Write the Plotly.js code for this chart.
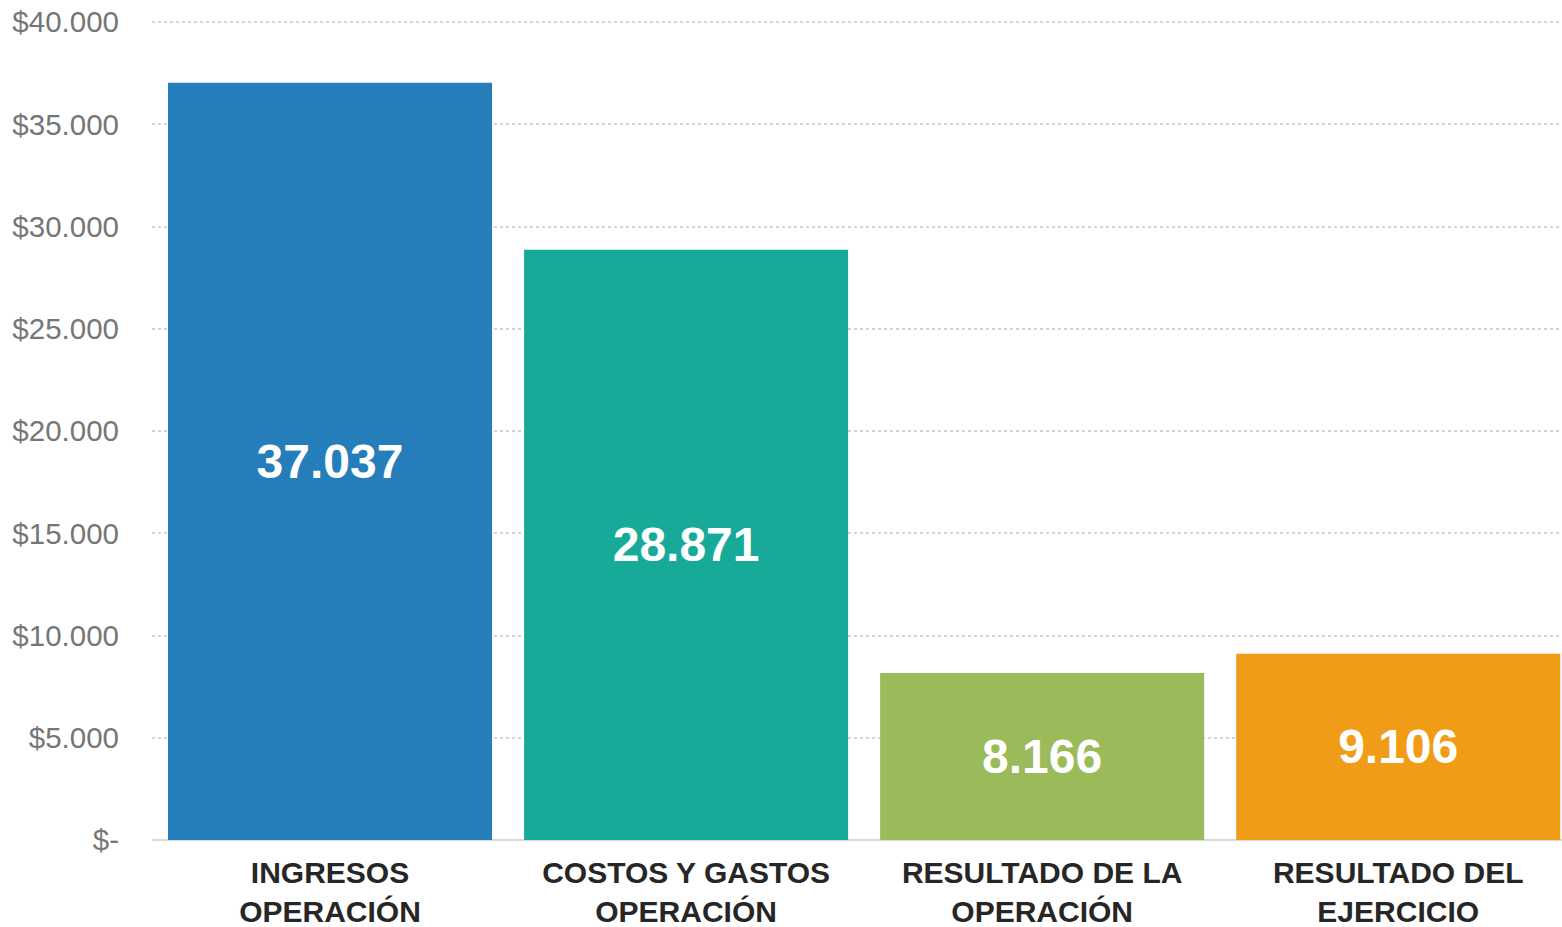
<!DOCTYPE html>
<html><head><meta charset="utf-8">
<script src="https://cdn.plot.ly/plotly-3.0.1.min.js"></script>
<style>html,body{margin:0;padding:0;background:#fff}#c{width:1562px;height:927px}</style>
</head><body><div id="c"></div>
<script>
const categories = ["INGRESOS<br>OPERACIÓN","COSTOS Y GASTOS<br>OPERACIÓN","RESULTADO DE LA<br>OPERACIÓN","RESULTADO DEL<br>EJERCICIO"];
const values = [37037, 28871, 8166, 9106];
const valueLabels = ["37.037","28.871","8.166","9.106"];
const barColors = ["#257DB9","#17AA99","#9BBA59","#F09C17"];
const tickVals = [0,5000,10000,15000,20000,25000,30000,35000,40000];
const tickText = ["$-","$5.000","$10.000","$15.000","$20.000","$25.000","$30.000","$35.000","$40.000"];

const trace = {
  type:'bar', x:[0,1,2,3], y:values, text:valueLabels,
  textposition:'inside', insidetextanchor:'middle', textangle:0,
  textfont:{family:'Liberation Sans, Arial, sans-serif', size:48, color:'#ffffff', weight:'bold'},
  marker:{color:barColors}, width:0.91, hoverinfo:'none', cliponaxis:false
};
const layout = {
  width:1562, height:927, margin:{l:152, r:0, t:19, b:87},
  paper_bgcolor:'#fff', plot_bgcolor:'#fff', showlegend:false,
  font:{family:'Liberation Sans, Arial, sans-serif'},
  xaxis:{range:[-0.5,3.46], tickvals:[0,1,2,3], ticktext:categories, showgrid:false, zeroline:false,
    showline:false, ticks:'', ticklabelstandoff:12,
    tickfont:{family:'Liberation Sans, Arial, sans-serif', size:30, color:'#262626', weight:'bold'}},
  yaxis:{range:[0,40150], tickvals:tickVals, ticktext:tickText, showgrid:true, gridcolor:'#d4d4d4',
    griddash:'dot', gridwidth:2, zeroline:true, zerolinecolor:'#d9d9d9', zerolinewidth:2,
    ticks:'', ticklabelstandoff:32,
    tickfont:{family:'Liberation Sans, Arial, sans-serif', size:29.5, color:'#767676'}},
  uniformtext:{mode:false}
};
Plotly.newPlot('c',[trace],layout,{displayModeBar:false,staticPlot:true});
</script></body></html>
